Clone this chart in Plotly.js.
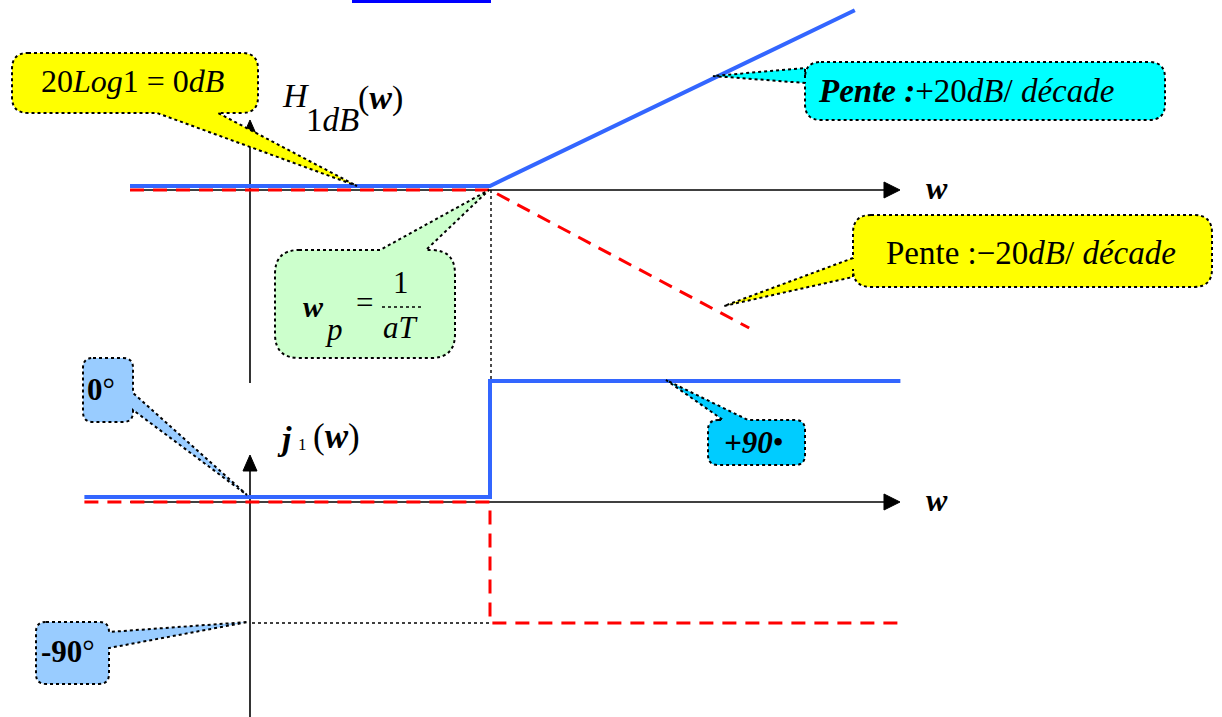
<!DOCTYPE html>
<html><head><meta charset="utf-8">
<script src="https://cdn.plot.ly/plotly-3.0.1.min.js"></script>
<style>html,body{margin:0;padding:0;background:#fff}#chart{width:1222px;height:717px}</style>
</head><body><div id="chart"></div>
<script>
// ---- data: x in decades relative to wp, magnitude in dB, phase in degrees
const magBlueX = [-1.5, 0, 1.52];
const magBlueY = [0.7, 0.7, 31.0];
const magRedX  = [-1.5, 0, 1.08];
const magRedY  = [0, 0, -23.8];
const phBlueX  = [-1.69, 0, 0, 1.71];
const phBlueY  = [3.7, 3.7, 90, 90];
const phRedX   = [-1.69, 0, 0, 1.71];
const phRedY   = [0, 0, -90, -90];

// ---- geometry helpers (decoration only)
const W = 1222, H = 717;
const PX = p => (p / W).toFixed(5);
const PY = p => (1 - p / H).toFixed(5);
const pt = (x, y) => PX(x) + ',' + PY(y);
const L = (x, y) => ' L' + pt(x, y);
const Q = (cx, cy, x, y) => ' Q' + pt(cx, cy) + ' ' + pt(x, y);

function callout(x0, y0, x1, y1, r, p) {
  let s = 'M' + pt(x0 + r, y0);
  if (p.side === 'top') s += L(p.a, y0) + L(p.tx, p.ty) + L(p.b, y0);
  s += L(x1 - r, y0) + Q(x1, y0, x1, y0 + r);
  if (p.side === 'right') s += L(x1, p.a) + L(p.tx, p.ty) + L(x1, p.b);
  s += L(x1, y1 - r) + Q(x1, y1, x1 - r, y1);
  if (p.side === 'bottom') s += L(p.a, y1) + L(p.tx, p.ty) + L(p.b, y1);
  s += L(x0 + r, y1) + Q(x0, y1, x0, y1 - r);
  if (p.side === 'left') s += L(x0, p.a) + L(p.tx, p.ty) + L(x0, p.b);
  s += L(x0, y0 + r) + Q(x0, y0, x0 + r, y0) + ' Z';
  return s;
}
function boxShape(path, fill) {
  return {type: 'path', xref: 'paper', yref: 'paper', path: path, fillcolor: fill,
          line: {color: 'black', width: 2, dash: 'dot'}, layer: 'above'};
}
function seg(x0, y0, x1, y1, w, dash) {
  return {type: 'line', xref: 'paper', yref: 'paper', x0: PX(x0), y0: PY(y0), x1: PX(x1), y1: PY(y1),
          line: {color: 'black', width: w, dash: dash || 'solid'}, layer: 'below'};
}
function tri(a, b, c) {
  return {type: 'path', xref: 'paper', yref: 'paper', path: 'M' + pt(a[0], a[1]) + L(b[0], b[1]) + L(c[0], c[1]) + ' Z',
          fillcolor: 'black', line: {color: 'black', width: 1}, layer: 'below'};
}
const serif = '"Liberation Serif", "Times New Roman", serif';
function txt(x, y, text, size, xanchor) {
  return {xref: 'paper', yref: 'paper', x: PX(x), y: PY(y), text: text, showarrow: false,
          xanchor: xanchor || 'center', yanchor: 'middle', font: {family: serif, size: size, color: 'black'}};
}

const BLUE = 'rgb(51,102,255)', RED = '#ff0000';
const traces = [
  {x: magRedX, y: magRedY, xaxis: 'x', yaxis: 'y', mode: 'lines', line: {color: RED, width: 3, dash: '14px,9px'}},
  {x: magBlueX, y: magBlueY, xaxis: 'x', yaxis: 'y', mode: 'lines', line: {color: BLUE, width: 4}},
  {x: phRedX, y: phRedY, xaxis: 'x', yaxis: 'y2', mode: 'lines', line: {color: RED, width: 3, dash: '14px,9px'}},
  {x: phBlueX, y: phBlueY, xaxis: 'x', yaxis: 'y2', mode: 'lines', line: {color: BLUE, width: 4}}
];

const shapes = [
  // top stray link underline
  {type: 'rect', xref: 'paper', yref: 'paper', x0: PX(352), x1: PX(491), y0: PY(0), y1: PY(3), fillcolor: '#0000ff', line: {width: 0}},
  // axes
  seg(132, 190, 886, 190, 1.6), tri([900, 190], [884, 182], [884, 198]),
  seg(250, 383, 250, 134, 1.6), tri([250, 120], [243, 136], [257, 136]),
  seg(130, 502, 886, 502, 1.6), tri([900, 502], [884, 494], [884, 510]),
  seg(250, 717, 250, 469, 1.6), tri([250, 455], [243, 471], [257, 471]),
  // reference dotted lines
  seg(491, 190, 491, 502, 1.4, 'dot'),
  seg(252, 623, 491, 623, 1.4, 'dot'),
  // callouts
  boxShape(callout(12, 53, 258, 113, 16, {side: 'bottom', a: 218, b: 157, tx: 357, ty: 186}), '#ffff00'),
  boxShape(callout(805, 62, 1165, 120, 16, {side: 'left', a: 83, b: 68, tx: 713, ty: 76}), '#00ffff'),
  boxShape(callout(853, 215, 1212, 287, 18, {side: 'left', a: 277, b: 258, tx: 724, ty: 306}), '#ffff00'),
  boxShape(callout(275, 250, 455, 358, 24, {side: 'top', a: 380, b: 426, tx: 489, ty: 190}), '#ccffcc'),
  boxShape(callout(83, 358, 133, 422, 10, {side: 'right', a: 393, b: 410, tx: 247, ty: 495}), '#99ccff'),
  boxShape(callout(708, 420, 805, 465, 10, {side: 'top', a: 723, b: 748, tx: 666, ty: 380}), '#00ccff'),
  boxShape(callout(36, 622, 109, 684, 10, {side: 'right', a: 632, b: 648, tx: 248, ty: 622}), '#99ccff'),
  // fraction bar
  {type: 'line', xref: 'paper', yref: 'paper', x0: PX(382), x1: PX(421), y0: PY(307), y1: PY(307),
   line: {color: 'black', width: 1.4, dash: 'dot'}, layer: 'above'}
];

const annotations = [
  txt(132, 81, '20<i>Log</i>1 = 0<i>dB</i>', 32),
  txt(296, 96, '<i>H</i>', 34),
  txt(304, 120, '1<i>dB</i>', 33, 'left'),
  txt(356, 98, '(<b><i>w</i></b>)', 34, 'left'),
  txt(816, 91, '<b><i>Pente :</i></b>+20<i>dB</i>/ <i>décade</i>', 33, 'left'),
  txt(884, 253, 'Pente :−20<i>dB</i>/ <i>décade</i>', 33, 'left'),
  txt(937, 188, '<b><i>w</i></b>', 32),
  txt(937, 500, '<b><i>w</i></b>', 32),
  txt(313, 306, '<b><i>w</i></b>', 30),
  txt(334, 329, '<i>p</i>', 31),
  txt(365, 303, '=', 31),
  txt(401, 282, '1', 31),
  txt(401, 327, '<i>aT</i>', 31),
  txt(101, 389, '<b>0</b>°', 31),
  txt(285, 438, '<b><i>j</i></b>', 34),
  txt(302, 444, '1', 17),
  txt(311, 436, '(<b><i>w</i></b>)', 35, 'left'),
  txt(754, 442, '<b><i>+90</i></b>•', 31),
  txt(68, 652, '<b>-90</b>°', 31)
];

const layout = {
  width: W, height: H, margin: {l: 0, r: 0, t: 0, b: 0},
  paper_bgcolor: 'white', plot_bgcolor: 'rgba(0,0,0,0)', showlegend: false,
  xaxis: {domain: [0, 1], range: [-490 / 240, (W - 490) / 240], visible: false, fixedrange: true},
  yaxis: {domain: [0.47, 1], range: [-32.76, 32.76], visible: false, anchor: 'x', fixedrange: true},
  yaxis2: {domain: [0, 0.49], range: [-159.9, 101.4], visible: false, anchor: 'x', fixedrange: true},
  shapes: shapes, annotations: annotations
};
Plotly.newPlot('chart', traces, layout, {staticPlot: true, displayModeBar: false});
</script></body></html>
